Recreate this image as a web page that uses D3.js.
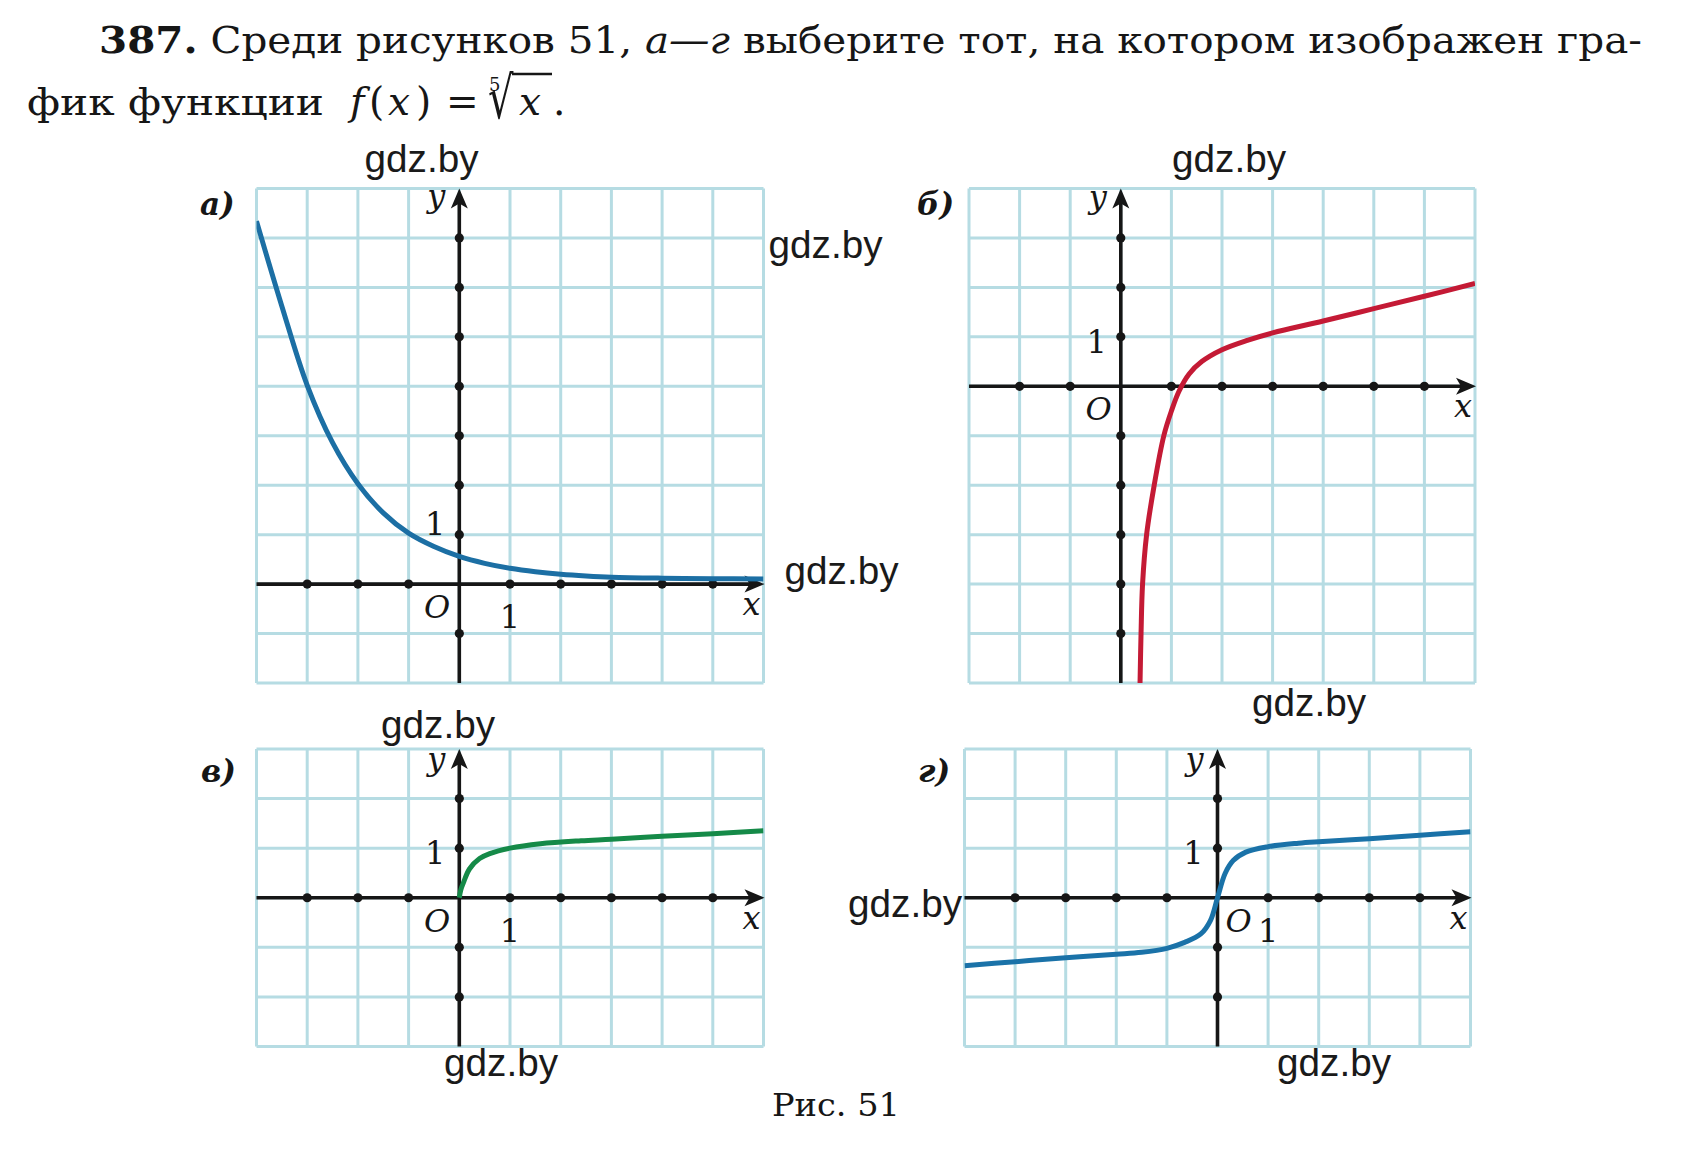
<!DOCTYPE html>
<html><head><meta charset="utf-8">
<script src="https://cdn.jsdelivr.net/npm/d3@7"></script>
<style>html,body{margin:0;padding:0;background:#fff;} svg{display:block}</style>
</head><body>
<svg id="chart" width="1681" height="1153"></svg>
<script>
// ================= DATA =================
const panelLabels = ["а)", "б)", "в)", "г)"];
const xDomainA = [-4, 6], yDomainA = [-2, 8];
const xDomainB = [-3, 7], yDomainB = [-6, 4];
const xDomainV = [-4, 6], yDomainV = [-3, 3];
const xDomainG = [-5, 5], yDomainG = [-3, 3];

// curve points: [x, y]
const curveA = [[-4,7.34],[-3.5,5.62],[-3,4.02],[-2.5,2.86],[-2,2.03],[-1.5,1.44],[-1,1.03],[-0.5,0.76],[0,0.56],[0.5,0.42],[1,0.32],[1.5,0.25],[2,0.2],[2.5,0.165],[3,0.14],[4,0.12],[5,0.11],[6,0.105]];
const curveB = [[0.38,-6],[0.40,-5],[0.43,-4],[0.51,-3],[0.66,-2],[0.85,-1],[1.0,-0.5],[1.15,-0.1],[1.35,0.25],[1.6,0.5],[2,0.74],[2.5,0.93],[3,1.08],[4,1.32],[5,1.57],[6,1.82],[7,2.08]];
const curveV = [[0,0],[0.03,0.16],[0.08,0.3],[0.2,0.58],[0.4,0.79],[0.6,0.89],[1,1.0],[1.6,1.09],[2.4,1.15],[3,1.18],[4,1.24],[5,1.29],[6,1.35]];
const curveG = [[-5,-1.37],[-4,-1.29],[-3,-1.21],[-2,-1.14],[-1.5,-1.1],[-1,-1.02],[-0.65,-0.9],[-0.33,-0.73],[-0.14,-0.46],[0,0],[0.15,0.49],[0.31,0.75],[0.56,0.92],[1,1.03],[1.6,1.1],[2,1.13],[3,1.19],[4,1.26],[5,1.33]];

const unitLabel = "1";
const originLabel = "O";
const axisNames = ["x", "y"];
const watermark = "gdz.by";
const headerNumber = "387.";
const headerText1 = " Среди рисунков 51, ";
const headerItalic = "а—г";
const headerText2 = " выберите тот, на котором изображен гра-";
const headerLine2 = "фик функции";
const rootIndex = "5";
const caption = "Рис. 51";

// ================= LAYOUT / STYLE =================
const SERIF = "'DejaVu Serif', 'Liberation Serif', serif";
const SANS = "'Liberation Sans', Arial, sans-serif";
const GRID = "#b6dce3";
const INK = "#161616";

const panels = [
  {label: panelLabels[0], xd: xDomainA, yd: yDomainA, data: curveA, color: "#1c6fa4",
   box: [256.5, 188.5, 763.5, 683], lab: [200, 215], yLabDy: 18, oneX: true, oneYDy: 0, oRight: true},
  {label: panelLabels[1], xd: xDomainB, yd: yDomainB, data: curveB, color: "#c41a35",
   box: [969, 188.5, 1475, 683], lab: [917, 215], yLabDy: 19, oneX: false, oneYDy: 16, oRight: true},
  {label: panelLabels[2], xd: xDomainV, yd: yDomainV, data: curveV, color: "#158a48",
   box: [256.5, 749, 763.5, 1046.5], lab: [201, 782], yLabDy: 21, oneX: true, oneYDy: 16, oRight: true},
  {label: panelLabels[3], xd: xDomainG, yd: yDomainG, data: curveG, color: "#1a72a8",
   box: [964.5, 749, 1470.5, 1046.5], lab: [918, 782], yLabDy: 21, oneX: true, oneYDy: 16, oRight: false}
];

const svg = d3.select("#chart");
const defs = svg.append("defs");

panels.forEach((p, i) => {
  const [x0, y0, x1, y1] = p.box;
  const xs = d3.scaleLinear().domain(p.xd).range([x0, x1]);
  const ys = d3.scaleLinear().domain(p.yd).range([y1, y0]);
  const g = svg.append("g");

  // grid
  const xt = d3.range(p.xd[0], p.xd[1] + 1);
  const yt = d3.range(p.yd[0], p.yd[1] + 1);
  g.append("g").selectAll("line").data(xt).join("line")
    .attr("x1", d => xs(d)).attr("x2", d => xs(d)).attr("y1", y0).attr("y2", y1)
    .attr("stroke", GRID).attr("stroke-width", 3);
  g.append("g").selectAll("line").data(yt).join("line")
    .attr("y1", d => ys(d)).attr("y2", d => ys(d)).attr("x1", x0).attr("x2", x1)
    .attr("stroke", GRID).attr("stroke-width", 3);

  const cid = "clip" + i;
  defs.append("clipPath").attr("id", cid).append("rect")
    .attr("x", x0).attr("y", y0 - 1).attr("width", x1 - x0).attr("height", y1 - y0 + 2);
  const line = d3.line().curve(d3.curveCatmullRom.alpha(0.5)).x(d => xs(d[0])).y(d => ys(d[1]));
  const ax = xs(0), ay = ys(0);

  // axes
  g.append("line").attr("x1", x0).attr("x2", x1 - 10).attr("y1", ay).attr("y2", ay)
    .attr("stroke", INK).attr("stroke-width", 3.6);
  g.append("line").attr("x1", ax).attr("x2", ax).attr("y1", y1).attr("y2", y0 + 10)
    .attr("stroke", INK).attr("stroke-width", 3.6);
  g.append("path").attr("fill", INK)
    .attr("d", `M${x1 + 1},${ay} L${x1 - 19},${ay - 8.5} L${x1 - 14},${ay} L${x1 - 19},${ay + 8.5} Z`);
  g.append("path").attr("fill", INK)
    .attr("d", `M${ax},${y0} L${ax - 8.5},${y0 + 20} L${ax},${y0 + 15} L${ax + 8.5},${y0 + 20} Z`);

  // dots at integer ticks
  const xDots = xt.filter(v => v !== 0 && v > p.xd[0] && v < p.xd[1]);
  const yDots = yt.filter(v => v !== 0 && v > p.yd[0] && v < p.yd[1]);
  g.append("g").selectAll("circle").data(xDots).join("circle")
    .attr("cx", d => xs(d)).attr("cy", ay).attr("r", 4.6).attr("fill", INK);
  g.append("g").selectAll("circle").data(yDots).join("circle")
    .attr("cx", ax).attr("cy", d => ys(d)).attr("r", 4.6).attr("fill", INK);

  // curve
  g.append("path").datum(p.data).attr("d", line).attr("clip-path", `url(#${cid})`)
    .attr("fill", "none").attr("stroke", p.color).attr("stroke-width", 5).attr("stroke-linecap", "butt");

  // labels
  g.append("text").attr("x", p.lab[0]).attr("y", p.lab[1]).text(p.label)
    .attr("font-family", SERIF).attr("font-style", "italic").attr("font-weight", "bold")
    .attr("font-size", 31).attr("fill", INK);
  g.append("text").attr("x", ax - 14).attr("y", y0 + p.yLabDy).attr("text-anchor", "end")
    .text(axisNames[1]).attr("font-family", SERIF).attr("font-style", "italic")
    .attr("font-size", 32).attr("fill", INK);
  g.append("text").attr("x", x1 - 3).attr("y", ay + 31).attr("text-anchor", "end")
    .text(axisNames[0]).attr("font-family", SERIF).attr("font-style", "italic")
    .attr("font-size", 32).attr("fill", INK);
  g.append("text").attr("x", p.oRight ? ax - 9 : ax + 8).attr("y", ay + 34)
    .attr("text-anchor", p.oRight ? "end" : "start")
    .text(originLabel).attr("font-family", SERIF).attr("font-style", "italic")
    .attr("font-size", 32).attr("fill", INK);
  if (p.oneX) {
    g.append("text").attr("x", xs(1)).attr("y", ay + 44).attr("text-anchor", "middle")
      .text(unitLabel).attr("font-family", SERIF).attr("font-size", 32).attr("fill", INK);
  }
  g.append("text").attr("x", ax - 24).attr("y", ys(1) + p.oneYDy).attr("text-anchor", "middle")
    .text(unitLabel).attr("font-family", SERIF).attr("font-size", 32).attr("fill", INK);
});

// ---- header ----
const h1 = svg.append("text").attr("x", 99).attr("y", 53).attr("font-family", SERIF)
  .attr("font-size", 37).attr("fill", INK).attr("textLength", 1543).attr("lengthAdjust", "spacingAndGlyphs");
h1.append("tspan").attr("font-weight", "bold").text(headerNumber);
h1.append("tspan").text(headerText1);
h1.append("tspan").attr("font-style", "italic").text(headerItalic);
h1.append("tspan").text(headerText2);

svg.append("text").attr("x", 27).attr("y", 115).attr("font-family", SERIF).attr("font-size", 37)
  .attr("fill", INK).attr("textLength", 297).attr("lengthAdjust", "spacingAndGlyphs").text(headerLine2);

const fx = svg.append("g").attr("font-family", SERIF).attr("font-size", 39).attr("fill", INK);
fx.append("text").attr("x", 350).attr("y", 115).attr("font-style", "italic").text("f");
fx.append("text").attr("x", 369).attr("y", 115).text("(");
fx.append("text").attr("x", 388).attr("y", 115).attr("font-style", "italic").text(axisNames[0]);
fx.append("text").attr("x", 416).attr("y", 115).text(")");
fx.append("text").attr("x", 446).attr("y", 115).text("=");
fx.append("text").attr("x", 489).attr("y", 91).attr("font-size", 18).text(rootIndex);
fx.append("text").attr("transform", "translate(488,118) scale(1,1.45)").attr("font-size", 40).text("√");
fx.append("line").attr("x1", 512).attr("x2", 552).attr("y1", 74).attr("y2", 74)
  .attr("stroke", INK).attr("stroke-width", 2.4);
fx.append("text").attr("x", 519).attr("y", 115).attr("font-style", "italic").text(axisNames[0]);
fx.append("text").attr("x", 553).attr("y", 115).text(".");

// ---- caption ----
svg.append("text").attr("x", 772).attr("y", 1116).attr("font-family", SERIF).attr("font-size", 32)
  .attr("fill", INK).attr("textLength", 128).attr("lengthAdjust", "spacingAndGlyphs").text(caption);

// ---- watermarks ----
const marks = [[364.5, 172], [768.5, 258], [784.5, 584], [1172, 172], [1252, 716],
               [381, 738], [444, 1076], [848, 917], [1277, 1076]];
svg.append("g").selectAll("text").data(marks).join("text")
  .attr("x", d => d[0]).attr("y", d => d[1]).text(watermark)
  .attr("font-family", SANS).attr("font-size", 38).attr("fill", "#1a1a1a")
  .attr("textLength", 114).attr("lengthAdjust", "spacingAndGlyphs");
</script>
</body></html>
